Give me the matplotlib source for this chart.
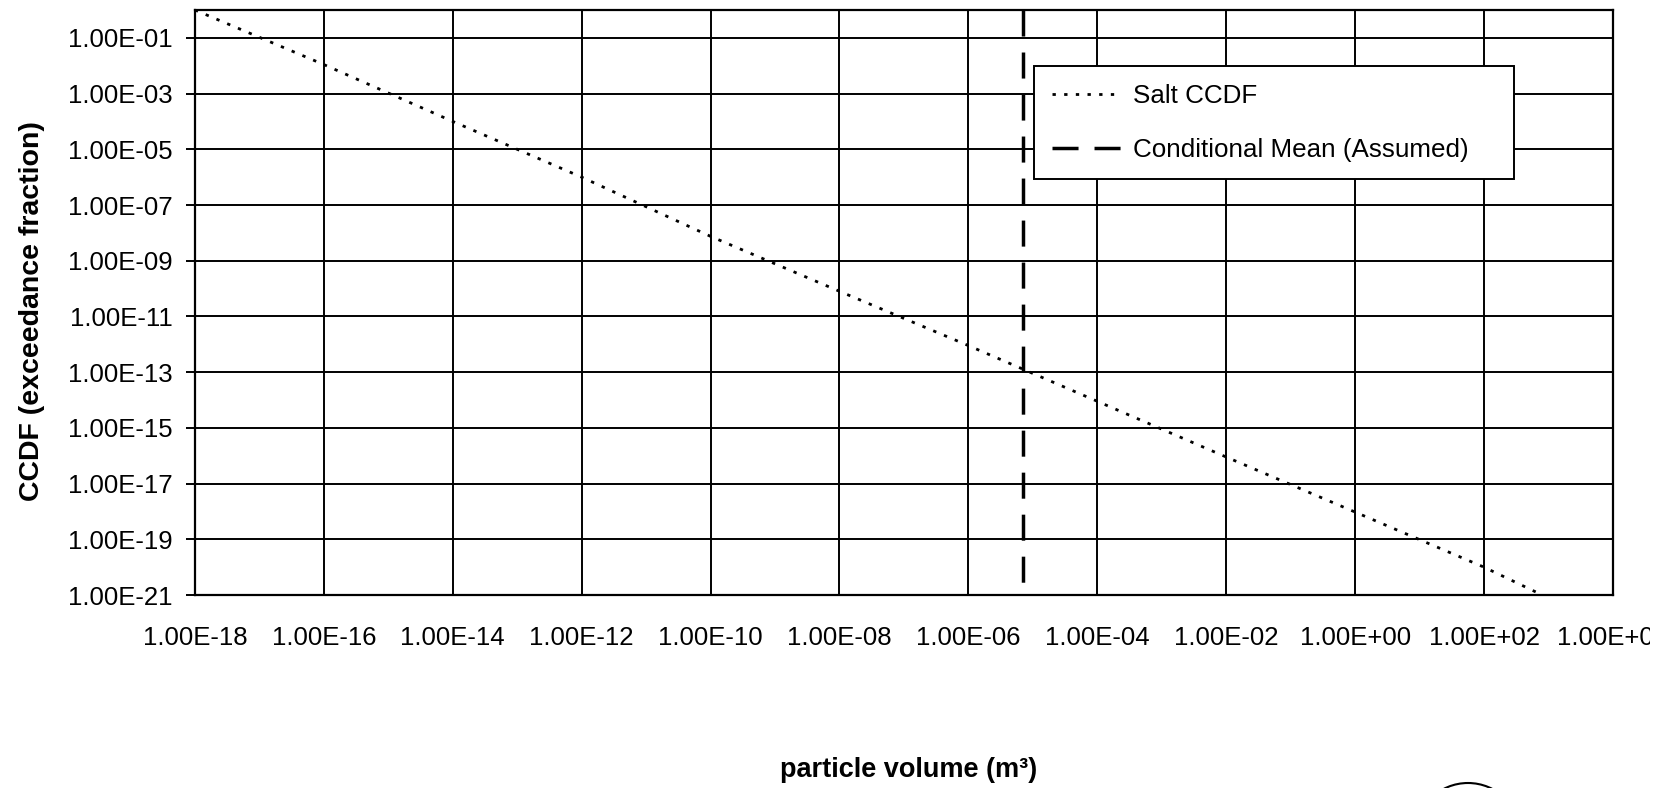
import matplotlib.pyplot as plt
from matplotlib.patches import Circle
from matplotlib.transforms import Bbox

plt.rcParams['font.family'] = 'Liberation Sans'

particle_volume = [1e-18, 1e-16, 1e-14, 1e-12, 1e-10, 1e-08, 1e-06, 1e-04, 1e-02, 1e+00, 1e+02, 8e+02]
salt_ccdf = [1.0, 1.1e-02, 1.0e-04, 1.0e-06, 7.5e-09, 8.0e-11, 9.0e-13, 9.0e-15, 9.0e-17, 9.5e-19, 1.0e-20, 1.0e-21]

# Assumed conditional mean particle volume, drawn across the full CCDF range
mean_volume = 7.0e-06
mean_ccdf_range = [1.0, 1.0e-21]

x_ticks = [1e-18, 1e-16, 1e-14, 1e-12, 1e-10, 1e-08, 1e-06, 1e-04, 1e-02, 1e+00, 1e+02, 1e+04]
y_ticks = [1e-21, 1e-19, 1e-17, 1e-15, 1e-13, 1e-11, 1e-09, 1e-07, 1e-05, 1e-03, 1e-01]

fig = plt.figure(figsize=(16.69, 7.88), dpi=100)
ax = fig.add_axes([0.1168, 0.2449, 0.8496, 0.7424])

ax.plot(particle_volume, salt_ccdf, color='black', lw=2.0, ls=(0, (1.2, 3.0)),
        label='Salt CCDF')
ax.plot([mean_volume, mean_volume], mean_ccdf_range, color='black', lw=2.5,
        ls=(0, (7.5, 4.6)), label='Conditional Mean (Assumed)')

ax.set_xscale('log')
ax.set_yscale('log')
ax.set_xlim(x_ticks[0], x_ticks[-1])
ax.set_ylim(1e-21, 1.0)
ax.set_xticks(x_ticks)
ax.set_xticklabels([f'{v:.2E}' for v in x_ticks])
ax.set_yticks(y_ticks)
ax.set_yticklabels([f'{v:.2E}' for v in y_ticks])
ax.minorticks_off()

ax.grid(True, which='major', color='black', lw=1.4)
ax.tick_params(axis='x', length=0, pad=22, labelsize=18.5)
ax.tick_params(axis='y', length=6.5, width=1.4, pad=9.4, labelsize=18.5, direction='out')
for spine in ax.spines.values():
    spine.set_linewidth(1.6)

ax.set_xlabel('particle volume (m³)', fontsize=19.5, fontweight='bold', va='center')
ax.xaxis.set_label_coords(0.503, -0.299)
ax.set_ylabel('CCDF (exceedance fraction)', fontsize=20.5, fontweight='bold', va='center')
ax.yaxis.set_label_coords(-0.115, 0.485)

leg = ax.legend(loc='upper left', bbox_to_anchor=(0.5917, 0.5, 0.3385, 0.4043), mode='expand',
                borderaxespad=0, borderpad=0.68, labelspacing=1.16, handlelength=2.7,
                handletextpad=0.42, fontsize=18.7, fancybox=False, framealpha=1,
                edgecolor='black')
leg.get_frame().set_linewidth(1.4)

# last volume label runs off the page edge
last_label = ax.get_xticklabels()[-1]
last_label.set_clip_box(Bbox.from_extents(0, 0, 1650, 788))
last_label.set_clip_on(True)

# circled mark at the foot of the page
fig.add_artist(Circle((14.68, -0.48), 0.53, transform=fig.dpi_scale_trans, fill=False,
                      lw=1.5, color='black', clip_on=False))

fig.savefig('out.png', dpi=100)
